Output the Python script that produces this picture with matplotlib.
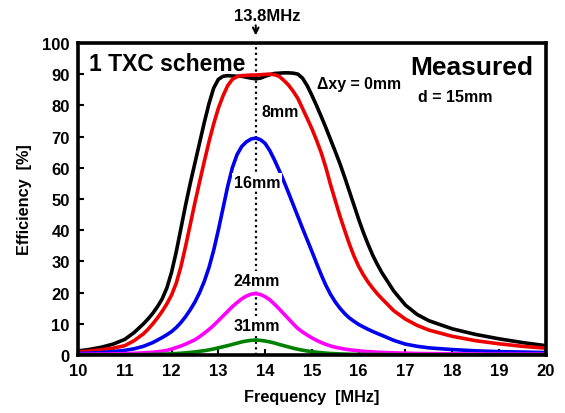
import matplotlib
matplotlib.use("Agg")
import matplotlib.pyplot as plt

plt.rcParams['font.family'] = ['Liberation Sans', 'DejaVu Sans']
plt.rcParams['font.weight'] = 'bold'

freq = [10, 10.25, 10.5, 10.75, 11, 11.2, 11.4,
        11.5, 11.6, 11.7, 11.8, 11.9, 12.0, 12.1, 12.2, 12.3, 12.4,
        12.5, 12.6, 12.7, 12.8, 12.9, 13.0, 13.1, 13.2, 13.3, 13.4,
        13.5, 13.6, 13.7, 13.8, 13.9, 14.0, 14.1, 14.2, 14.3, 14.4,
        14.5, 14.6, 14.7, 14.8, 14.9, 15.0, 15.1, 15.2, 15.3, 15.4,
        15.5, 15.6, 15.7, 15.8, 15.9, 16.0, 16.1, 16.2, 16.3, 16.4, 16.5,
        16.75, 17, 17.25, 17.5, 18, 18.5, 19, 19.5, 20]

eff_0mm = [1.3, 1.8, 2.5, 3.5, 5.0, 7.2, 10.0,
           11.6, 13.4, 15.5, 18.0, 21.5, 26.5, 33.0, 40.5, 48.0, 55.0,
           61.5, 68.0, 74.5, 80.5, 85.5, 88.3, 89.3, 89.5, 89.4, 89.3,
           89.3, 89.0, 88.7, 88.5, 88.7, 89.3, 89.8, 90.2, 90.3, 90.4,
           90.4, 90.3, 90.0, 88.7, 86.3, 83.2, 79.9, 76.4, 72.8, 69.0,
           65.2, 61.3, 57.0, 52.5, 48.0, 43.5, 39.3, 35.5, 32.0, 29.0, 26.3,
           20.5, 16.0, 13.0, 11.0, 8.4, 6.6, 5.2, 4.0, 3.0]
eff_8mm = [1.0, 1.3, 1.7, 2.2, 3.0, 4.6, 6.8,
           8.3, 10.0, 11.9, 14.0, 16.4, 19.2, 23.0, 28.3, 34.8, 41.8,
           48.8, 55.5, 62.0, 68.3, 74.0, 79.0, 83.0, 86.3, 88.3, 89.2,
           89.5, 89.6, 89.7, 89.7, 89.8, 89.9, 90.0, 89.8, 89.3, 88.0,
           86.5, 84.5, 82.2, 79.0, 75.8, 72.5, 68.8, 64.8, 60.0, 54.5,
           49.5, 44.5, 40.0, 35.6, 31.7, 28.4, 25.7, 23.4, 21.4, 19.6, 18.0,
           14.2, 11.5, 9.5, 8.0, 6.0, 4.6, 3.6, 2.8, 2.2]
eff_16mm = [0.5, 0.6, 0.8, 1.1, 1.5, 2.0, 2.8,
            3.4, 4.0, 4.8, 5.6, 6.5, 7.5, 8.8, 10.4, 12.3, 14.5,
            17.0, 20.0, 23.6, 28.0, 33.5, 40.0, 47.0, 54.0, 60.0, 64.2,
            66.8, 68.3, 69.2, 69.5, 69.0, 67.8, 65.5, 62.5, 59.2, 55.7,
            52.0, 48.2, 44.4, 40.6, 36.9, 33.2, 29.4, 25.7, 22.3, 19.4,
            17.0, 15.0, 13.3, 11.9, 10.8, 9.8, 9.0, 8.25, 7.55, 6.9, 6.3,
            4.7, 3.5, 2.8, 2.3, 1.75, 1.35, 1.1, 0.95, 0.8]
eff_24mm = [0.2, 0.25, 0.3, 0.35, 0.45, 0.55, 0.7,
            0.8, 0.9, 1.05, 1.25, 1.5, 1.9, 2.4, 2.9, 3.5, 4.2,
            4.9, 5.9, 7.0, 8.2, 9.5, 11.0, 12.5, 14.0, 15.5, 16.8,
            18.0, 18.9, 19.5, 19.7, 19.4, 18.7, 17.7, 16.3, 14.8, 13.2,
            11.6, 10.0, 8.5, 7.4, 6.4, 5.5, 4.7, 4.0, 3.4, 2.9,
            2.5, 2.2, 1.9, 1.7, 1.5, 1.35, 1.2, 1.1, 1.0, 0.9, 0.85,
            0.7, 0.6, 0.5, 0.45, 0.4, 0.35, 0.3, 0.3, 0.3]
eff_31mm = [0.05, 0.05, 0.07, 0.08, 0.1, 0.12, 0.14,
            0.15, 0.18, 0.22, 0.27, 0.33, 0.4, 0.48, 0.58, 0.7, 0.85,
            1.0, 1.2, 1.4, 1.65, 1.95, 2.3, 2.65, 3.0, 3.4, 3.8,
            4.2, 4.5, 4.7, 4.8, 4.7, 4.5, 4.2, 3.85, 3.4, 3.0,
            2.6, 2.2, 1.85, 1.55, 1.3, 1.1, 0.9, 0.75, 0.6, 0.5,
            0.42, 0.36, 0.3, 0.26, 0.22, 0.2, 0.18, 0.17, 0.16, 0.15, 0.14,
            0.12, 0.1, 0.1, 0.1, 0.1, 0.1, 0.1, 0.1, 0.1]

series = [eff_0mm, eff_8mm, eff_16mm, eff_24mm, eff_31mm]
colors = ['black', '#ee0000', '#0000ee', '#ff00ff', '#008000']
x_ticks = [10, 11, 12, 13, 14, 15, 16, 17, 18, 19, 20]
y_ticks = [0, 10, 20, 30, 40, 50, 60, 70, 80, 90, 100]
marker_freq = 13.8

fig = plt.figure(figsize=(5.65, 4.14), dpi=100)
ax = fig.add_axes([0.138, 0.140, 0.828, 0.754])

ax.axvline(marker_freq, color='black', linestyle=(0, (1, 1.5)), linewidth=1.6, zorder=1)

for vals, c in zip(series, colors):
    ax.plot(freq, vals, color=c, linewidth=2.6, zorder=3,
            solid_joinstyle='round', solid_capstyle='butt')

ax.set_xlim(10, 20)
ax.set_ylim(0, 100)
ax.set_xticks(x_ticks)
ax.set_yticks(y_ticks)
for s in ax.spines.values():
    s.set_linewidth(2.6)
    s.set_zorder(5)
ax.tick_params(direction='in', length=4, width=1.5, labelsize=12, pad=6)
for lab in ax.get_xticklabels() + ax.get_yticklabels():
    lab.set_fontweight('bold')

ax.set_xlabel('Frequency  [MHz]', fontsize=11.7, fontweight='bold', labelpad=8)
ax.set_ylabel('Efficiency  [%]', fontsize=11.7, fontweight='bold', labelpad=7)

ax.text(11.9, 93.3, '1 TXC scheme', fontsize=16.5, fontweight='bold', ha='center', va='center')
ax.text(18.42, 92.3, 'Measured', fontsize=19, fontweight='bold', ha='center', va='center')
ax.text(15.1, 86.9, '\u0394xy = 0mm', fontsize=11.4, fontweight='bold', ha='left', va='center')
ax.text(18.07, 82.7, 'd = 15mm', fontsize=11.5, fontweight='bold', ha='center', va='center')
ax.text(13.93, 78, '8mm', fontsize=11.5, fontweight='bold', ha='left', va='center')
bb = dict(facecolor='white', edgecolor='none', pad=1)
ax.text(13.83, 55.4, '16mm', fontsize=11.5, fontweight='bold', ha='center', va='center', bbox=bb, zorder=4)
ax.text(13.83, 24, '24mm', fontsize=11.5, fontweight='bold', ha='center', va='center', bbox=bb, zorder=4)
ax.text(13.83, 9.6, '31mm', fontsize=11.5, fontweight='bold', ha='center', va='center', bbox=bb, zorder=4)

ax.annotate('', xy=(marker_freq, 101.5), xytext=(marker_freq, 106.5), xycoords='data',
            arrowprops=dict(arrowstyle='->', color='black', lw=1.5), annotation_clip=False)
ax.text(14.04, 108.8, '13.8MHz', fontsize=12, fontweight='bold', ha='center', va='center', clip_on=False)

fig.savefig('out.png', dpi=100)
